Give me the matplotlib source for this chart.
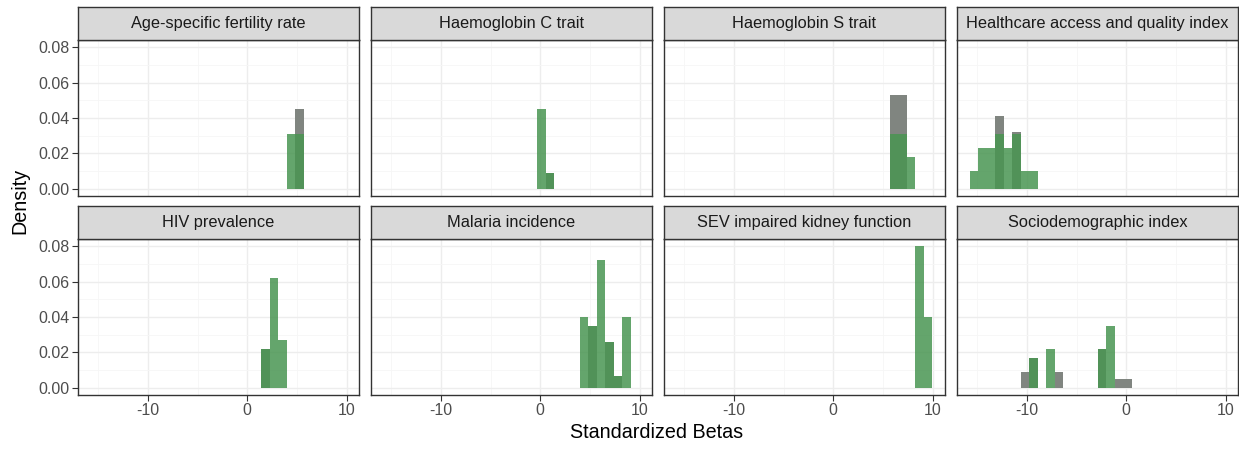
import numpy as np
import matplotlib
matplotlib.use("Agg")
from matplotlib import pyplot as plt

plt.rcParams['font.family'] = ['Liberation Sans', 'DejaVu Sans']
plt.rcParams['axes.unicode_minus'] = False

titles = ["Age-specific fertility rate", "Haemoglobin C trait", "Haemoglobin S trait",
          "Healthcare access and quality index", "HIV prevalence", "Malaria incidence",
          "SEV impaired kidney function", "Sociodemographic index"]

# 30 bins over the whole range (ggplot default)
bin_start = -15.75
bin_width = 0.857

# bin index -> density, one list per panel
green_bins = [[23, 24], [18, 19], [25, 26, 27], [0, 1, 2, 3, 4, 5, 6, 7],
              [20, 21, 22], [23, 24, 25, 26, 27, 28], [28, 29], [7, 9, 15, 16]]
green_heights = [[0.031, 0.031], [0.045, 0.009], [0.031, 0.031, 0.018],
                 [0.010, 0.023, 0.023, 0.031, 0.023, 0.031, 0.010, 0.010],
                 [0.022, 0.062, 0.027], [0.040, 0.035, 0.072, 0.026, 0.007, 0.040],
                 [0.080, 0.040], [0.017, 0.022, 0.022, 0.035]]
gray_bins = [[24], [19], [25, 26], [3, 5], [20], [24, 26, 27], [], [6, 7, 10, 15, 17, 18]]
gray_heights = [[0.045], [0.009], [0.053, 0.053], [0.041, 0.032], [0.022],
                [0.035, 0.026, 0.007], [], [0.009, 0.017, 0.009, 0.022, 0.005, 0.005]]

x_ticks = [-10, 0, 10]
y_ticks = [0.0, 0.02, 0.04, 0.06, 0.08]

W, H = 1239, 449
fig = plt.figure(figsize=(W / 100, H / 100), dpi=100)


def rect(x, y_top, w, h):
    return [x / W, 1 - (y_top + h) / H, w / W, h / H]


col_left = [78, 371, 664, 957]
panel_top = [40, 239]
pw, ph, sh = 281, 156, 33

for i, title in enumerate(titles):
    r, c = divmod(i, 4)
    ax = fig.add_axes(rect(col_left[c], panel_top[r], pw, ph))
    ax.set_axisbelow(True)
    gx = bin_start + np.array(gray_bins[i]) * bin_width
    ax.bar(gx, gray_heights[i], width=bin_width, align='edge', color='#808580', lw=0)
    gx = bin_start + np.array(green_bins[i]) * bin_width
    ax.bar(gx, green_heights[i], width=bin_width, align='edge', color='#499552', alpha=0.85, lw=0)
    ax.set_xlim(-17.04, 11.25)
    ax.set_ylim(-0.004, 0.084)
    ax.set_xticks(x_ticks)
    ax.set_yticks(y_ticks)
    ax.set_xticks([-15, -5, 5], minor=True)
    ax.set_yticks([0.01, 0.03, 0.05, 0.07], minor=True)
    ax.set_yticklabels([f"{v:.2f}" for v in y_ticks])
    ax.grid(True, which='major', color='#ededed', lw=1.0)
    ax.grid(True, which='minor', color='#f6f6f6', lw=0.6)
    ax.tick_params(which='major', length=4, width=0.8, color='#333333',
                   labelcolor='#4d4d4d', labelsize=11.5, pad=2)
    ax.tick_params(which='minor', length=0)
    if c > 0:
        ax.tick_params(left=False, labelleft=False)
    if r == 0:
        ax.tick_params(bottom=False, labelbottom=False)
    for s in ax.spines.values():
        s.set_color('#333333')
        s.set_linewidth(1.0)

    st = fig.add_axes(rect(col_left[c], panel_top[r] - sh, pw, sh))
    st.set_facecolor('#d9d9d9')
    st.set_xticks([])
    st.set_yticks([])
    for s in st.spines.values():
        s.set_color('#333333')
        s.set_linewidth(1.0)
    st.text(0.5, 0.5, title, ha='center', va='center', fontsize=11.8, color='#1a1a1a',
            transform=st.transAxes)

fig.text(657 / W, 1 - 432 / H, "Standardized Betas", ha='center', va='center', fontsize=14.2)
fig.text(20 / W, 1 - 201 / H, "Density", ha='center', va='center', rotation=90, fontsize=14.2)

fig.savefig("out.png", dpi=100, facecolor='white')
